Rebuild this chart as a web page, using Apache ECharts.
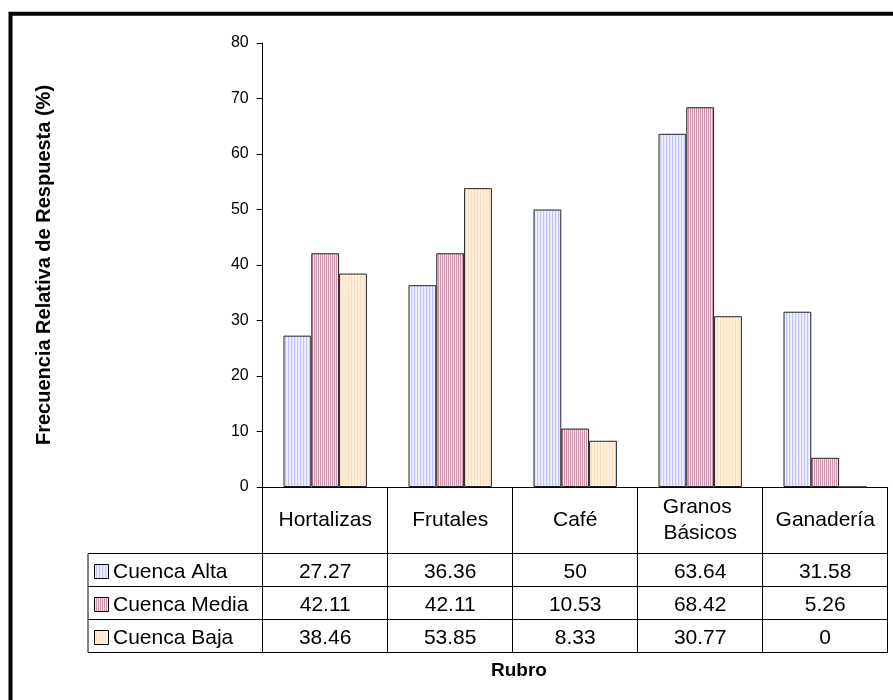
<!DOCTYPE html>
<html style="height: 100%;">
<head>
<meta charset="utf-8">
<script src="https://cdn.jsdelivr.net/npm/echarts@6/dist/echarts.min.js"></script>
</head>
<body style="height: 100%; margin: 0; background-color: #fff;">
<div id="container" style="width: 893px; height: 700px;"></div>
<script type="text/javascript">
var categories = ['Hortalizas', 'Frutales', 'Café', 'Granos Básicos', 'Ganadería'];
var seriesNames = ['Cuenca Alta', 'Cuenca Media', 'Cuenca Baja'];
var cuencaAlta = [27.27, 36.36, 50, 63.64, 31.58];
var cuencaMedia = [42.11, 42.11, 10.53, 68.42, 5.26];
var cuencaBaja = [38.46, 53.85, 8.33, 30.77, 0];
var yMin = 0, yMax = 80, yStep = 10;

var FONT = 'Arial, "Liberation Sans", sans-serif';

// vertical stripe fills like the excel patterns
function stripes(cols) {
    var c = document.createElement('canvas');
    c.width = cols.length;
    c.height = 4;
    var g = c.getContext('2d');
    cols.forEach(function (col, i) {
        g.fillStyle = col;
        g.fillRect(i, 0, 1, 4);
    });
    return { image: c, repeat: 'repeat' };
}
var fills = [
    stripes(['#c4c4ff', '#e6e6ff', '#f0f0ff']),
    stripes(['#cc96ae', '#f2dfe7']),
    stripes(['#ffdcb6', '#fff1e0', '#fff1e0'])
];
var values = [cuencaAlta, cuencaMedia, cuencaBaja];

var dom = document.getElementById('container');
var myChart = echarts.init(dom);

var gridLeft = 262.7, gridTop = 43, gridBottom = 487, tableLeft = 88;
var rowLines = [553.5, 586.5, 619.5, 652.5];

var option = {
    animation: false,
    backgroundColor: '#fff',
    grid: { left: gridLeft, right: 5.3, top: gridTop, bottom: 700 - gridBottom },
    xAxis: {
        type: 'category',
        data: categories,
        axisLine: { lineStyle: { color: '#000', width: 1 } },
        axisTick: { show: true, length: rowLines[3] - gridBottom, lineStyle: { color: '#000' } },
        axisLabel: {
            color: '#000', fontSize: 21, fontFamily: FONT,
            margin: 33, verticalAlign: 'middle', lineHeight: 26,
            width: 120, overflow: 'break', interval: 0
        }
    },
    yAxis: {
        type: 'value',
        min: yMin, max: yMax, interval: yStep,
        name: 'Frecuencia Relativa de Respuesta (%)',
        nameLocation: 'middle',
        nameGap: 208,
        nameTextStyle: { color: '#000', fontSize: 20, fontWeight: 'bold', fontFamily: FONT },
        axisLine: { show: true, lineStyle: { color: '#000', width: 1 } },
        axisTick: { show: true, length: 6, lineStyle: { color: '#000' } },
        axisLabel: { color: '#000', fontSize: 16, fontFamily: FONT, margin: 14 },
        splitLine: { show: false }
    },
    series: seriesNames.map(function (name, k) {
        return {
            type: 'bar',
            name: name,
            data: values[k],
            barGap: '0%',
            barCategoryGap: '33.3%',
            itemStyle: { color: fills[k], borderColor: '#222', borderWidth: 1 }
        };
    })
};
myChart.setOption(option);

// data table under the axis
var centers = categories.map(function (c, i) {
    return myChart.convertToPixel({ xAxisIndex: 0 }, i);
});
var band = centers[1] - centers[0];
var tableRight = centers[centers.length - 1] + band / 2;
var g = [];
g.push({
    type: 'rect', silent: true,
    shape: { x: 10.5, y: 13.8, width: 900, height: 720 },
    style: { fill: 'none', stroke: '#000', lineWidth: 4 }
});
rowLines.forEach(function (y) {
    g.push({ type: 'line', shape: { x1: tableLeft, y1: y, x2: tableRight, y2: y }, style: { stroke: '#000', lineWidth: 1 } });
});
g.push({ type: 'line', shape: { x1: tableLeft, y1: rowLines[0], x2: tableLeft, y2: rowLines[3] }, style: { stroke: '#000', lineWidth: 1 } });
seriesNames.forEach(function (name, k) {
    var cy = (rowLines[k] + rowLines[k + 1]) / 2 + 2;
    g.push({
        type: 'rect',
        shape: { x: tableLeft + 6.5, y: cy - 7.5, width: 14, height: 14 },
        style: { fill: fills[k], stroke: '#000', lineWidth: 1 }
    });
    g.push({
        type: 'text', x: tableLeft + 25, y: cy,
        style: { text: name, fill: '#000', font: '21px ' + FONT, textAlign: 'left', textVerticalAlign: 'middle' }
    });
    values[k].forEach(function (v, i) {
        g.push({
            type: 'text', x: centers[i], y: cy,
            style: { text: String(v), fill: '#000', font: '21px ' + FONT, textAlign: 'center', textVerticalAlign: 'middle' }
        });
    });
});
g.push({
    type: 'text', x: 519, y: 671,
    style: { text: 'Rubro', fill: '#000', font: 'bold 19px ' + FONT, textAlign: 'center', textVerticalAlign: 'middle' }
});
myChart.setOption({ graphic: g });
</script>
</body>
</html>
